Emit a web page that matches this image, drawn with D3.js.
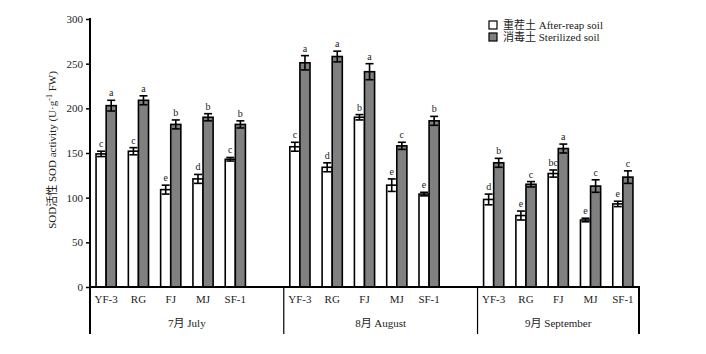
<!DOCTYPE html>
<html>
<head>
<meta charset="utf-8">
<script src="https://cdn.jsdelivr.net/npm/d3@7"></script>
<style>
  body { margin: 0; background: #fff; }
  text { font-family: "Liberation Serif", "Times New Roman", "Noto Sans CJK SC", serif; fill: #222; }
</style>
</head>
<body>
<div id="chart"></div>
<script>
// Months, soil samples and series names
const months = ["7月 July", "8月 August", "9月 September"];
const samples = ["YF-3", "RG", "FJ", "MJ", "SF-1"];
const seriesNames = ["重茬土 After-reap soil", "消毒土 Sterilized soil"];

// SOD activity, one row per month
const afterReap = [[149, 152, 109, 121, 143], [157, 134, 190, 114, 104], [98, 80, 127, 75, 93]];
const afterReapErr = [[3, 4, 5, 5, 2], [5, 5, 3, 7, 2], [6, 5, 4, 2, 3]];
const sterilized = [[203, 209, 182, 190, 182], [251, 258, 241, 158, 186], [139, 115, 155, 113, 123]];
const sterilizedErr = [[6, 5, 5, 4, 4], [8, 6, 9, 4, 5], [5, 3, 5, 7, 7]];

// Significance letters
const afterReapLetters = [["c", "c", "e", "d", "c"], ["c", "d", "b", "e", "e"], ["d", "e", "bc", "e", "e"]];
const sterilizedLetters = [["a", "a", "b", "b", "b"], ["a", "a", "a", "c", "b"], ["b", "c", "a", "c", "c"]];

const yTicks = [0, 50, 100, 150, 200, 250, 300];

// Build slot list: 5 samples per month, plus one empty slot after July and August
const slots = [];
months.forEach((m, mi) => {
    samples.forEach(s => slots.push(mi + "|" + s));
    if (mi < months.length - 1) slots.push("gap" + mi);
});

// Flat table of bars
const rows = [];
months.forEach((m, mi) => {
    samples.forEach((s, si) => {
        rows.push({slot: mi + "|" + s, series: 0, v: afterReap[mi][si], e: afterReapErr[mi][si], l: afterReapLetters[mi][si]});
        rows.push({slot: mi + "|" + s, series: 1, v: sterilized[mi][si], e: sterilizedErr[mi][si], l: sterilizedLetters[mi][si]});
    });
});

const W = 706, H = 354;
const plotLeft = 90, plotRight = 639, plotTop = 19, plotBottom = 287, lineEnd = 334;
const colors = ["#ffffff", "#808080"];

const svg = d3.select("#chart").append("svg")
    .attr("width", W)
    .attr("height", H);

// Scales
const x = d3.scaleBand().domain(slots).range([plotLeft, plotRight]).paddingInner(0).paddingOuter(0);
const x1 = d3.scaleBand().domain([0, 1]).range([0, x.bandwidth()]).paddingInner(0).paddingOuter(0.6);
const y = d3.scaleLinear().domain([0, 300]).range([plotBottom, plotTop]);

// Bars
svg.selectAll(".bar")
    .data(rows)
    .enter()
    .append("rect")
    .attr("x", d => x(d.slot) + x1(d.series))
    .attr("y", d => y(d.v))
    .attr("width", x1.bandwidth())
    .attr("height", d => y(0) - y(d.v))
    .attr("fill", d => colors[d.series])
    .attr("stroke", "#000")
    .attr("stroke-width", 1.6);

// Error bars
const err = svg.selectAll(".err")
    .data(rows)
    .enter()
    .append("g")
    .attr("transform", d => `translate(${x(d.slot) + x1(d.series) + x1.bandwidth() / 2},0)`);

err.append("line")
    .attr("y1", d => y(d.v - d.e))
    .attr("y2", d => y(d.v + d.e))
    .attr("stroke", "#000")
    .attr("stroke-width", 1.6);

err.append("line")
    .attr("x1", -4).attr("x2", 4)
    .attr("y1", d => y(d.v + d.e)).attr("y2", d => y(d.v + d.e))
    .attr("stroke", "#000").attr("stroke-width", 1.6);

err.append("line")
    .attr("x1", -4).attr("x2", 4)
    .attr("y1", d => y(d.v - d.e)).attr("y2", d => y(d.v - d.e))
    .attr("stroke", "#000").attr("stroke-width", 1.6);

// Letters over bars
err.append("text")
    .attr("y", d => y(d.v + d.e) - 4)
    .attr("text-anchor", "middle")
    .style("font-size", "10px")
    .text(d => d.l);

// Y axis
const yAxis = svg.append("g")
    .attr("transform", `translate(${plotLeft},0)`)
    .call(d3.axisLeft(y).tickValues(yTicks).tickSize(4).tickPadding(3));
yAxis.select(".domain").remove();
yAxis.selectAll(".tick line").attr("stroke", "#000").attr("stroke-width", 1.5);
yAxis.selectAll(".tick text").style("font-size", "11px").attr("fill", "#222");

svg.append("line")
    .attr("x1", plotLeft).attr("x2", plotLeft)
    .attr("y1", plotTop - 1).attr("y2", lineEnd)
    .attr("stroke", "#000").attr("stroke-width", 2);

// X axis line
svg.append("line")
    .attr("x1", plotLeft).attr("x2", plotRight)
    .attr("y1", y(0)).attr("y2", y(0))
    .attr("stroke", "#000").attr("stroke-width", 2);

// Right end
svg.append("line")
    .attr("x1", plotRight).attr("x2", plotRight)
    .attr("y1", y(0) - 1).attr("y2", lineEnd)
    .attr("stroke", "#000").attr("stroke-width", 2);

// Month dividers
months.slice(1).forEach((m, i) => {
    const xx = x((i + 1) + "|" + samples[0]);
    svg.append("line")
        .attr("x1", xx).attr("x2", xx)
        .attr("y1", y(0)).attr("y2", lineEnd)
        .attr("stroke", "#000").attr("stroke-width", 1.2);
});

// Sample labels
svg.selectAll(".cat")
    .data(rows.filter(d => d.series === 0))
    .enter()
    .append("text")
    .attr("x", d => x(d.slot) + x.bandwidth() / 2)
    .attr("y", 303)
    .attr("text-anchor", "middle")
    .style("font-size", "11px")
    .text(d => d.slot.split("|")[1]);

// Month labels
months.forEach((m, mi) => {
    const xs = x(mi + "|" + samples[0]);
    const xe = mi < months.length - 1 ? x((mi + 1) + "|" + samples[0]) : plotRight;
    svg.append("text")
        .attr("x", (xs + xe) / 2)
        .attr("y", 327)
        .attr("text-anchor", "middle")
        .style("font-size", "11px")
        .text(m);
});

// Y axis title
svg.append("text")
    .attr("transform", "translate(56,150) rotate(-90)")
    .attr("text-anchor", "middle")
    .style("font-size", "11px")
    .html("SOD活性 SOD activity (U·g<tspan dy='-4' font-size='8px'>-1</tspan><tspan dy='4'> FW)</tspan>");

// Legend
const legend = svg.selectAll(".legend")
    .data(seriesNames)
    .enter()
    .append("g")
    .attr("transform", (d, i) => `translate(489,${21 + i * 12})`);

legend.append("rect")
    .attr("width", 8).attr("height", 8)
    .attr("fill", (d, i) => colors[i])
    .attr("stroke", "#000").attr("stroke-width", 1.2);

legend.append("text")
    .attr("x", 14).attr("y", 8)
    .style("font-size", "11px")
    .text(d => d);
</script>
</body>
</html>
